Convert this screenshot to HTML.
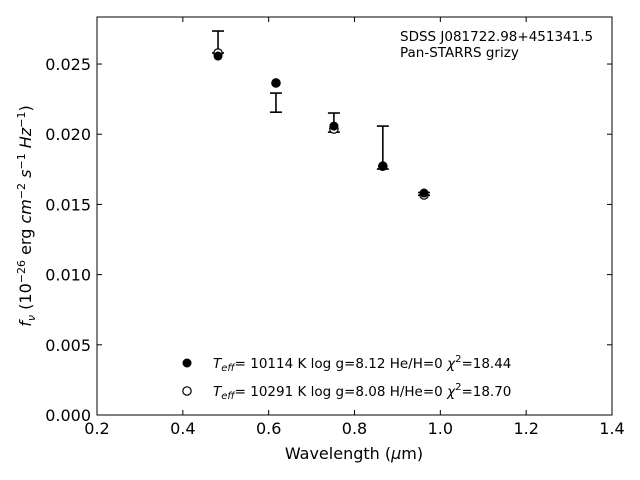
<!DOCTYPE html>
<html><head><meta charset="utf-8"><style>
body{margin:0;background:#fff}
svg{display:block;font-family:"DejaVu Sans","Liberation Sans",sans-serif}
</style></head><body>
<svg id="chart" width="640" height="480" viewBox="0 0 640 480">
<rect x="0" y="0" width="640" height="480" fill="#fff"/>
<g id="ticks"></g>
<g id="marks"></g>
<rect x="97" y="17" width="515" height="398" fill="none" stroke="#000" stroke-width="1"/>
<text x="400" y="41" font-size="13.5">SDSS J081722.98+451341.5</text>
<text x="400" y="57" font-size="13.5">Pan-STARRS grizy</text>
<text x="354" y="459" font-size="16" text-anchor="middle">Wavelength (<tspan font-style="italic">μ</tspan>m)</text>
<text transform="translate(31,216) rotate(-90)" font-size="16" text-anchor="middle"><tspan font-style="italic">f</tspan><tspan font-style="italic" font-size="11" dy="4">ν</tspan><tspan dy="-4"> (10</tspan><tspan font-size="11" dy="-6">−26</tspan><tspan dy="6"> erg </tspan><tspan font-style="italic">cm</tspan><tspan font-size="11" dy="-6">−2</tspan><tspan dy="6"> </tspan><tspan font-style="italic">s</tspan><tspan font-size="11" dy="-6">−1</tspan><tspan dy="6"> </tspan><tspan font-style="italic">Hz</tspan><tspan font-size="11" dy="-6">−1</tspan><tspan dy="6">)</tspan></text>
<g>
<circle cx="187" cy="363" r="4.5" fill="#000"/>
<text x="213" y="368" font-size="13.5"><tspan font-style="italic">T</tspan><tspan font-style="italic" font-size="10" dy="3">eff</tspan><tspan dy="-3">= 10114 K  log g=8.12  He/H=0  </tspan><tspan font-style="italic">χ</tspan><tspan font-size="10" dy="-6">2</tspan><tspan dy="6">=18.44</tspan></text>
<circle cx="187" cy="391" r="4.2" fill="#fff" stroke="#000" stroke-width="1.2"/>
<text x="213" y="396" font-size="13.5"><tspan font-style="italic">T</tspan><tspan font-style="italic" font-size="10" dy="3">eff</tspan><tspan dy="-3">= 10291 K  log g=8.08  H/He=0  </tspan><tspan font-style="italic">χ</tspan><tspan font-size="10" dy="-6">2</tspan><tspan dy="6">=18.70</tspan></text>
</g>
</svg>
<script>
const wavelengths = [0.482, 0.617, 0.752, 0.866, 0.962];
const observed = [0.02657, 0.02225, 0.02083, 0.01905, 0.01575];
const observedErr = [0.00078, 0.00068, 0.00068, 0.00153, 0.00010];
const modelHeH = [0.02557, 0.02365, 0.02058, 0.01774, 0.01581];
const modelHHe = [0.02578, 0.02365, 0.02037, 0.01772, 0.01567];
const xTicks = [0.2, 0.4, 0.6, 0.8, 1.0, 1.2, 1.4];
const xTickLabels = ["0.2","0.4","0.6","0.8","1.0","1.2","1.4"];
const yTicks = [0, 0.005, 0.010, 0.015, 0.020, 0.025];
const yTickLabels = ["0.000","0.005","0.010","0.015","0.020","0.025"];

const NS = "http://www.w3.org/2000/svg";
const X0 = 97, X1 = 612, Y0 = 415, Y1 = 17;
const xMin = 0.2, xMax = 1.4, yMin = 0, yMax = 0.02835;
const xs = v => X0 + (v - xMin) / (xMax - xMin) * (X1 - X0);
const ys = v => Y0 - (v - yMin) / (yMax - yMin) * (Y0 - Y1);
function mk(tag, attrs, parent) {
  const e = document.createElementNS(NS, tag);
  for (const k in attrs) e.setAttribute(k, attrs[k]);
  parent.appendChild(e);
  return e;
}
const tg = document.getElementById('ticks');
xTicks.forEach((t, i) => {
  const x = xs(t);
  let l = mk('line', {x1: x, x2: x, y1: Y0, y2: Y0 - 5, stroke: '#000'}, tg);
  
  
  l = mk('line', {x1: x, x2: x, y1: Y1, y2: Y1 + 5, stroke: '#000'}, tg);
  
  
  const tx = mk('text', {x: x, y: 434, 'font-size': 16, 'text-anchor': 'middle'}, tg);
  tx.textContent = xTickLabels[i];
  
  
});
yTicks.forEach((t, i) => {
  const y = ys(t);
  let l = mk('line', {x1: X0, x2: X0 + 5, y1: y, y2: y, stroke: '#000'}, tg);
  
  
  l = mk('line', {x1: X1, x2: X1 - 5, y1: y, y2: y, stroke: '#000'}, tg);
  
  
  const tx = mk('text', {x: 91, y: y + 6, 'font-size': 16, 'text-anchor': 'end'}, tg);
  tx.textContent = yTickLabels[i];
  
  
});
const mg = document.getElementById('marks');
wavelengths.forEach((w, i) => {
  const x = xs(w), yt = ys(observed[i] + observedErr[i]), yb = ys(observed[i] - observedErr[i]);
  const g = mk('g', {stroke: '#000', 'stroke-width': 1.6}, mg);
  
  
  mk('line', {x1: x, x2: x, y1: yt, y2: yb}, g);
  mk('line', {x1: x - 6, x2: x + 6, y1: yt, y2: yt}, g);
  mk('line', {x1: x - 6, x2: x + 6, y1: yb, y2: yb}, g);
});
wavelengths.forEach((w, i) => {
  const c = mk('circle', {cx: xs(w), cy: ys(modelHHe[i]), r: 4.2, fill: '#fff', stroke: '#000', 'stroke-width': 1.2}, mg);
  
  
});
wavelengths.forEach((w, i) => {
  const c = mk('circle', {cx: xs(w), cy: ys(modelHeH[i]), r: 4.5, fill: '#000'}, mg);
  
  
});
</script>
</body></html>
